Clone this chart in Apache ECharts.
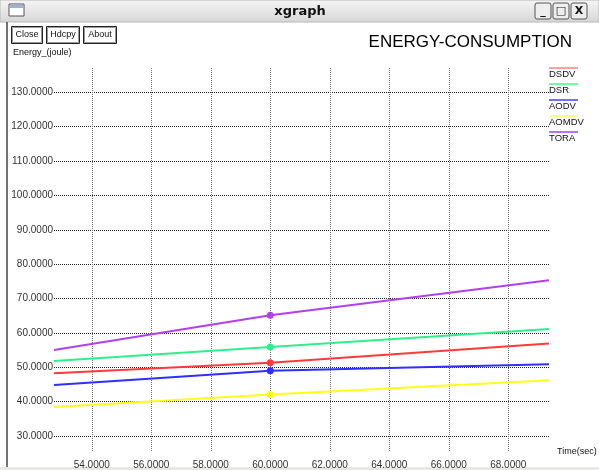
<!DOCTYPE html>
<html><head><meta charset="utf-8">
<script src="https://cdn.jsdelivr.net/npm/echarts@6/dist/echarts.min.js"></script>
<style>html,body{margin:0;padding:0;background:#fff}#c{width:599px;height:470px}</style>
</head><body><div id="c"></div><script>
// ---- data ----
const seriesNames = ['DSDV', 'DSR', 'AODV', 'AOMDV', 'TORA'];
const timePoints = [52.73, 60, 69.37];
const dsdvValues = [48.25, 51.3, 56.9];
const dsrValues = [51.8, 55.9, 61.1];
const aodvValues = [44.8, 49.0, 50.9];
const aomdvValues = [38.4, 42.1, 46.2];
const toraValues = [55.0, 65.1, 75.3];
const markerTime = 60;
const xTickValues = [54, 56, 58, 60, 62, 64, 66, 68];
const yTickValues = [30, 40, 50, 60, 70, 80, 90, 100, 110, 120, 130];

// ---- styles ----
const lineColors = ['#ff3a3a', '#2ef08a', '#2f2fff', '#ffff1a', '#b040f0'];
const legendColors = ['#ff8080', '#40ff80', '#4040ff', '#ffff60', '#a040f0'];
const allValues = [dsdvValues, dsrValues, aodvValues, aomdvValues, toraValues];
const FONT = 'Liberation Sans, Arial, sans-serif';

const series = seriesNames.map((name, i) => ({
  name: name,
  type: 'line',
  data: timePoints.map((t, j) => [t, allValues[i][j]]),
  symbol: 'circle',
  symbolSize: v => (v[0] === markerTime ? 7 : 0),
  showSymbol: true,
  showAllSymbol: true,
  lineStyle: { color: lineColors[i], width: 2 },
  itemStyle: { color: lineColors[i] },
  z: 3 + i,
  animation: false
}));

const graphics = [];
// window chrome
graphics.push({ type: 'rect', shape: { x: 0, y: 0, width: 599, height: 22 },
  style: { fill: new echarts.graphic.LinearGradient(0, 0, 0, 1, [{ offset: 0, color: '#f6f6f6' }, { offset: 1, color: '#d6d6d6' }]), stroke: '#b8b8b8' } });
graphics.push({ type: 'text', x: 300, y: 12, style: { text: 'xgraph', font: 'bold 13px DejaVu Sans, sans-serif', fill: '#111', align: 'center', verticalAlign: 'middle' } });
graphics.push({ type: 'rect', shape: { x: 9, y: 4, width: 15, height: 12 }, style: { fill: '#fff', stroke: '#555', lineWidth: 1 } });
graphics.push({ type: 'rect', shape: { x: 10, y: 5, width: 13, height: 3 }, style: { fill: '#9fb2d6' } });
[[535, '_'], [553, '□'], [571, 'X']].forEach(b => {
  graphics.push({ type: 'rect', shape: { x: b[0], y: 3, width: 16, height: 16, r: 2 }, style: { fill: '#eeeeee', stroke: '#555', lineWidth: 1 } });
  graphics.push({ type: 'text', x: b[0] + 8, y: 11, style: { text: b[1], font: 'bold 11px DejaVu Sans, sans-serif', fill: '#111', align: 'center', verticalAlign: 'middle' } });
});
graphics.push({ type: 'line', shape: { x1: 7, y1: 22, x2: 7, y2: 470 }, style: { stroke: '#444', lineWidth: 1.5 } });
graphics.push({ type: 'rect', shape: { x: 0, y: 467, width: 599, height: 3 }, style: { fill: '#ebe8e2' } });
// buttons
[[11, 31, 'Close'], [46, 33, 'Hdcpy'], [83, 33, 'About']].forEach(b => {
  graphics.push({ type: 'rect', shape: { x: b[0] + 0.5, y: 26.5, width: b[1], height: 17 }, style: { fill: '#fff', stroke: '#222', lineWidth: 1 } });
  graphics.push({ type: 'rect', shape: { x: b[0] + 1.5, y: 27.5, width: b[1] - 2, height: 15 }, style: { fill: 'none', stroke: '#999', lineWidth: 1 } });
  graphics.push({ type: 'text', x: b[0] + b[1] / 2 + 0.5, y: 35, style: { text: b[2], font: '9px ' + FONT, fill: '#111', align: 'center', verticalAlign: 'middle' } });
});
// texts
graphics.push({ type: 'text', x: 572, y: 42, style: { text: 'ENERGY-CONSUMPTION', font: '17px ' + FONT, fill: '#000', align: 'right', verticalAlign: 'middle' } });
graphics.push({ type: 'text', x: 13, y: 53, style: { text: 'Energy_(joule)', font: '9px ' + FONT, fill: '#111', align: 'left', verticalAlign: 'middle' } });
graphics.push({ type: 'text', x: 557, y: 452, style: { text: 'Time(sec)', font: '9px ' + FONT, fill: '#111', align: 'left', verticalAlign: 'middle' } });
// legend
seriesNames.forEach((name, i) => {
  const y = 68 + i * 16;
  graphics.push({ type: 'line', shape: { x1: 549, y1: y, x2: 578, y2: y }, style: { stroke: legendColors[i], lineWidth: 1.5 } });
  graphics.push({ type: 'text', x: 549, y: y + 6.5, style: { text: name, font: '9.5px ' + FONT, fill: '#111', align: 'left', verticalAlign: 'middle' } });
});

const option = {
  animation: false,
  backgroundColor: '#fff',
  grid: { left: 54, right: 50, top: 68, bottom: 18, containLabel: false },
  xAxis: {
    type: 'value', min: 52.73, max: 69.37,
    axisLine: { show: false },
    axisTick: { show: false, customValues: xTickValues },
    axisLabel: { customValues: xTickValues, formatter: v => v.toFixed(4), color: '#333', fontSize: 10, fontFamily: FONT, margin: 8 },
    splitLine: { show: true, lineStyle: { type: [1, 1], color: '#777', width: 1 } }
  },
  yAxis: {
    type: 'value', min: 25.34, max: 137.07,
    axisLine: { show: false },
    axisTick: { show: false, customValues: yTickValues },
    axisLabel: { customValues: yTickValues, formatter: v => v.toFixed(4), color: '#333', fontSize: 10, fontFamily: FONT, margin: 1 },
    splitLine: { show: true, lineStyle: { type: [1, 1], color: '#222', width: 1 } }
  },
  graphic: graphics,
  series: series
};
const chart = echarts.init(document.getElementById('c'), null, { renderer: 'canvas' });
chart.setOption(option);
</script></body></html>
